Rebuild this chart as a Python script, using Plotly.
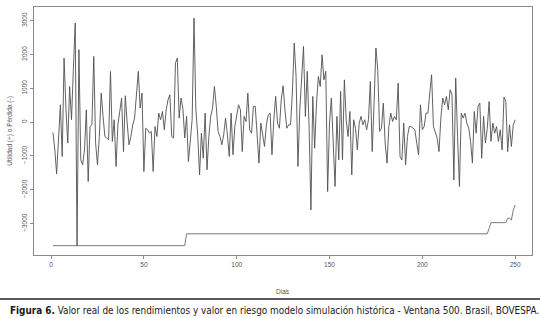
import plotly.graph_objects as go

dias = list(range(1, 251))

rendimientos = [
    -305, -800, -1530, -600, 513, -1015, 1893, 400, -620, 1055,
    70, 1550, 2930, -3660, 2140, -1115, -1260, -820, 365, -1755,
    -130, -80, 1940, -620, -1260, -425, 858, 170, -425, -470,
    -520, 1500, -570, 70, -1310, -80, 365, 710, -870, 780,
    -30, -670, -425, -80, 120, 957, 1500, 415, 858, -1460,
    -180, -225, -325, -275, -1460, -130, -425, 265, 70, 315,
    -225, 365, 660, 810, -425, -470, 1745, 1893, 120, 710,
    415, -470, 170, -1165, -520, 70, 3075, 365, -375, -1557,
    -325, -1065, 265, -1410, -425, 170, 415, 1055, 465, -275,
    -425, -670, -375, 120, -375, -1015, 265, -965, -130, 215,
    513, 365, -870, 170, 20, 858, -225, -325, 465, 465,
    -325, -1210, -30, -325, -720, -80, 215, 265, -965, 70,
    760, -30, -180, 660, 1075, 365, -180, -80, -80, 858,
    2337, 1350, -1310, 365, 1400, 2238, 170, 1500, -130, -2593,
    760, -770, 562, 1350, 1055, 1990, 1250, 1500, -2050, -30,
    710, -620, -1900, 170, -1115, 908, -1115, 1250, 70, -425,
    315, -1557, 70, -180, -820, -30, 170, -80, 70, -225,
    70, 1200, -870, 513, 2189, 1550, -275, -180, 562, -620,
    -1210, -130, 265, 20, 170, 70, 1154, -1015, -1115, -30,
    -1260, -425, -130, -130, -180, -225, -620, -965, 513, -225,
    -130, 265, 265, 858, 1400, -130, -275, -470, -870, 120,
    710, 513, 760, 365, 957, 810, -1705, 1300, -425, -1900,
    265, 120, 265, -30, -180, -570, -1210, 315, -325, 465,
    562, -1065, 170, -620, -180, 610, -570, -30, -325, -130,
    -570, -225, -820, 740, 610, -870, -80, -720, -80, 70,
]

var_hs = (
    [-3650] * 72
    + [-3300] * 163
    + [-3140]
    + [-2970] * 9
    + [-2840] * 2
    + [-2890, -2600, -2450]
)

x_ticks = [0, 50, 100, 150, 200, 250]
y_ticks = [-3000, -2000, -1000, 0, 1000, 2000, 3000]

titulo_x = "Dias"
titulo_y = "Utilidad (+) o Pérdida (-)"
caption_bold = "Figura 6."
caption_rest = " Valor real de los rendimientos y valor en riesgo modelo simulación histórica - Ventana 500. Brasil, BOVESPA."

fig = go.Figure()
fig.add_trace(go.Scatter(x=dias, y=rendimientos, mode="lines",
                         line=dict(color="#505050", width=0.9), showlegend=False,
                         hoverinfo="skip"))
fig.add_trace(go.Scatter(x=dias, y=var_hs, mode="lines",
                         line=dict(color="#6a6a6a", width=0.9), showlegend=False,
                         hoverinfo="skip"))

W, H = 540, 318
L, R, T, B = 34.3, 531.7, 7.3, 255.0
pw, ph = R - L, B - T

def px(xw):
    return (xw - L) / pw

def py(yw):
    return (B - yw) / ph

tick_font = dict(family="Liberation Sans, Arial, sans-serif", size=6.5, color="#555555")

fig.update_layout(
    width=W, height=H,
    margin=dict(l=L, r=W - R, t=T, b=H - B, pad=0, autoexpand=False),
    paper_bgcolor="white", plot_bgcolor="white",
    xaxis=dict(range=[-9.2, 259.1], tickvals=x_ticks, showgrid=False, zeroline=False,
               showline=True, mirror=True, linecolor="#8a8a8a", linewidth=1,
               ticks="outside", ticklen=3, tickcolor="#8a8a8a", tickfont=tick_font,
               automargin=False),
    yaxis=dict(range=[-3926, 3402], tickvals=y_ticks, showgrid=False, zeroline=False,
               showline=True, mirror=True, linecolor="#8a8a8a", linewidth=1,
               ticks="outside", ticklen=3, tickcolor="#8a8a8a", tickfont=tick_font,
               tickangle=-90, automargin=False),
    shapes=[dict(type="line", xref="paper", yref="paper",
                 x0=px(0), x1=px(540), y0=py(299), y1=py(299),
                 line=dict(color="#222222", width=1.5))],
    annotations=[
        dict(text=titulo_x, xref="paper", yref="paper", x=0.5, y=py(291),
             showarrow=False, xanchor="center", yanchor="middle", font=tick_font),
        dict(text=titulo_y, xref="paper", yref="paper", x=px(10), y=0.5,
             showarrow=False, textangle=-90, xanchor="center", yanchor="middle", font=tick_font),
        dict(text="<b>" + caption_bold + "</b>" + caption_rest, xref="paper", yref="paper",
             x=px(8), y=py(310), showarrow=False, xanchor="left", yanchor="middle",
             font=dict(family="Liberation Sans Narrow, DejaVu Sans Condensed, sans-serif",
                       size=9.9, color="#1a1a1a")),
    ],
)

fig.write_html("out.html", config={"displayModeBar": False},
               post_script="document.body.style.margin='0';document.body.style.padding='0';")
